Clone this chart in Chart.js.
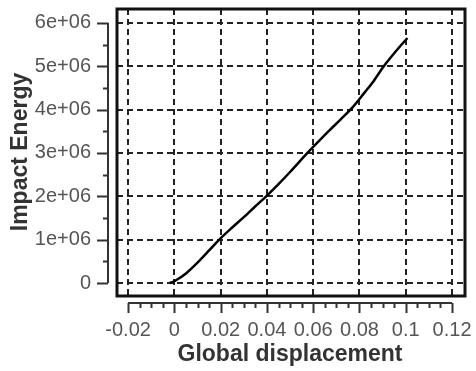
<!DOCTYPE html>
<html>
<head>
<meta charset="utf-8">
<script src="https://cdn.jsdelivr.net/npm/chart.js@4/dist/chart.umd.min.js"></script>
<style>
  html, body { margin: 0; padding: 0; background: #fff; }
  #wrap { width: 476px; height: 371px; }
</style>
</head>
<body>
<div id="wrap"><canvas id="c" width="476" height="371"></canvas></div>
<script>
// Global displacement vs impact energy
const dispX = [-0.002, 0.0, 0.005, 0.01, 0.015, 0.0194, 0.025, 0.03, 0.035, 0.0397, 0.045,
  0.05, 0.0575, 0.062, 0.067, 0.072, 0.077, 0.082, 0.086, 0.0905, 0.095, 0.1007];
const energyY = [0, 0.04e6, 0.22e6, 0.47e6, 0.75e6, 1.0e6, 1.28e6, 1.52e6, 1.77e6, 2.0e6, 2.28e6,
  2.56e6, 3.0e6, 3.25e6, 3.52e6, 3.78e6, 4.05e6, 4.38e6, 4.65e6, 5.0e6, 5.3e6, 5.65e6];

const xTicks = [-0.02, 0, 0.02, 0.04, 0.06, 0.08, 0.1, 0.12];
const xTickLabels = ['-0.02', '0', '0.02', '0.04', '0.06', '0.08', '0.1', '0.12'];
const yTicks = [0, 1e6, 2e6, 3e6, 4e6, 5e6, 6e6];
const yTickLabels = ['0', '1e+06', '2e+06', '3e+06', '4e+06', '5e+06', '6e+06'];
const xMinor = 0.005, yMinor = 0.5e6;

const FONT = "'Liberation Sans', Arial, sans-serif";

// Detached axes (R style), frame box and axis titles
const axesPlugin = {
  id: 'detachedAxes',
  afterDraw(chart) {
    const { ctx, chartArea: a, scales: { x, y } } = chart;
    ctx.save();
    ctx.strokeStyle = '#111';
    ctx.lineWidth = 3;
    ctx.strokeRect(a.left, a.top, a.right - a.left, a.bottom - a.top);

    // x axis below the box
    const ax = a.bottom + 7;
    ctx.lineWidth = 2;
    ctx.strokeStyle = '#333';
    ctx.beginPath();
    ctx.moveTo(x.getPixelForValue(xTicks[0]), ax);
    ctx.lineTo(x.getPixelForValue(xTicks[xTicks.length - 1]), ax);
    for (let v = xTicks[0]; v <= xTicks[xTicks.length - 1] + 1e-9; v += xMinor) {
      const px = Math.round(x.getPixelForValue(v)) + 0.5;
      const major = xTicks.some(t => Math.abs(t - v) < 1e-9);
      ctx.moveTo(px, ax);
      ctx.lineTo(px, ax + (major ? 10 : 5));
    }
    ctx.stroke();

    // y axis left of the box
    const ay = a.left - 9;
    ctx.beginPath();
    ctx.moveTo(ay, y.getPixelForValue(yTicks[0]));
    ctx.lineTo(ay, y.getPixelForValue(yTicks[yTicks.length - 1]));
    for (let v = yTicks[0]; v <= yTicks[yTicks.length - 1] + 1; v += yMinor) {
      const py = Math.round(y.getPixelForValue(v)) + 0.5;
      const major = yTicks.some(t => Math.abs(t - v) < 1);
      ctx.moveTo(ay, py);
      ctx.lineTo(ay - (major ? 11 : 5), py);
    }
    ctx.stroke();

    // tick labels
    ctx.fillStyle = '#555';
    ctx.font = '20px ' + FONT;
    ctx.textAlign = 'center';
    ctx.textBaseline = 'middle';
    xTicks.forEach((v, i) => ctx.fillText(xTickLabels[i], x.getPixelForValue(v), 330));
    ctx.textAlign = 'right';
    yTicks.forEach((v, i) => ctx.fillText(yTickLabels[i], 91, y.getPixelForValue(v)));

    // axis titles
    ctx.fillStyle = '#333';
    ctx.font = 'bold 23px ' + FONT;
    ctx.textAlign = 'center';
    ctx.fillText('Global displacement', 290, 355);
    ctx.translate(21, 152);
    ctx.rotate(-Math.PI / 2);
    ctx.fillText('Impact Energy', 0, 0);
    ctx.restore();
  }
};

// grid lines take their dash from border.dash in v4
const gridStyle = { color: '#222', lineWidth: 2, drawTicks: false };
const borderStyle = { display: false, dash: [6, 4] };

new Chart(document.getElementById('c'), {
  type: 'scatter',
  data: {
    datasets: [{
      data: dispX.map((v, i) => ({ x: v, y: energyY[i] })),
      showLine: true,
      borderColor: '#000',
      borderWidth: 2.5,
      pointRadius: 0,
      tension: 0.3
    }]
  },
  options: {
    responsive: false,
    animation: false,
    layout: { padding: { left: 117, top: 9, right: 11, bottom: 75 } },
    plugins: { legend: { display: false }, tooltip: { enabled: false } },
    scales: {
      x: {
        type: 'linear', min: -0.0248, max: 0.1256,
        ticks: { display: false },
        border: borderStyle,
        grid: gridStyle,
        afterBuildTicks: s => { s.ticks = xTicks.map(v => ({ value: v })); }
      },
      y: {
        type: 'linear', min: -0.3e6, max: 6.32e6,
        ticks: { display: false },
        border: borderStyle,
        grid: gridStyle,
        afterBuildTicks: s => { s.ticks = yTicks.map(v => ({ value: v })); }
      }
    }
  },
  plugins: [axesPlugin, {
    id: 'whiteBg',
    beforeDraw(chart) {
      chart.ctx.fillStyle = '#fff';
      chart.ctx.fillRect(0, 0, chart.width, chart.height);
    }
  }]
});
</script>
</body>
</html>
